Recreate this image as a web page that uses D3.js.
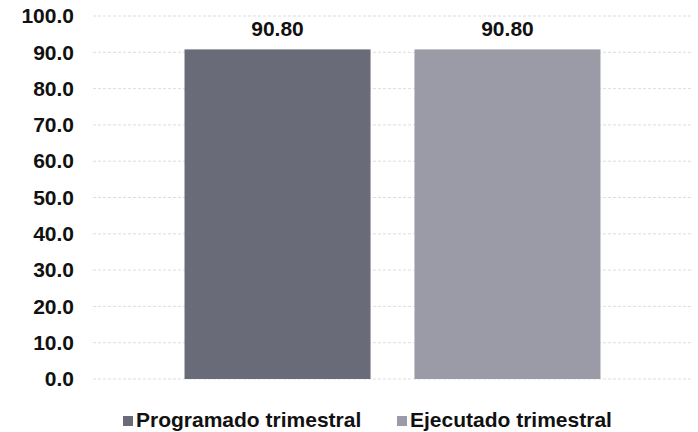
<!DOCTYPE html>
<html><head><meta charset="utf-8">
<script src="https://cdn.jsdelivr.net/npm/d3@7/dist/d3.min.js"></script>
<style>body{margin:0;background:#fff}svg{display:block}text{font-family:"Liberation Sans",Arial,sans-serif;font-weight:bold;fill:#111}</style>
</head><body><svg id="c" width="698" height="432"></svg>
<script>
const categories = [""];
const seriesNames = ["Programado trimestral", "Ejecutado trimestral"];
const seriesValues = [90.80, 90.80];
const yTicks = [0,10,20,30,40,50,60,70,80,90,100];
const colors = ["#6a6b79", "#9b9ba8"];

(function(){
const svg = d3.select("#c");
const mLeft = 93, mRight = 692, mTop = 16, mBottom = 379;
const y = d3.scaleLinear().domain([0,100]).range([mBottom, mTop]);
const x0 = d3.scaleBand().domain(categories).range([mLeft, mRight]).paddingOuter(0.22).paddingInner(0);
const x1 = d3.scaleBand().domain(seriesNames).range([0, x0.bandwidth()]).paddingInner(0.191).paddingOuter(0);

svg.append("g").selectAll("line").data(yTicks).join("line")
  .attr("x1", mLeft).attr("x2", mRight).attr("y1", d=>y(d)).attr("y2", d=>y(d))
  .attr("stroke", "#d4d4d4").attr("stroke-width", 0.8).attr("stroke-dasharray", "3,2");

const yAxis = d3.axisLeft(y).tickValues(yTicks).tickFormat(d3.format(".1f")).tickSize(0).tickPadding(0);
const ga = svg.append("g").attr("transform", `translate(74,0)`).call(yAxis);
ga.select(".domain").remove();
ga.selectAll("text").style("font-size","21px").attr("fill","#111").attr("font-family",'"Liberation Sans",Arial,sans-serif').attr("font-weight","bold");

const g = svg.append("g");
categories.forEach(c => {
  seriesNames.forEach((s,i) => {
    const bx = x0(c) + x1(s);
    g.append("rect").attr("x", bx).attr("y", y(seriesValues[i]))
      .attr("width", x1.bandwidth()).attr("height", y(0) - y(seriesValues[i]))
      .attr("fill", colors[i]);
    g.append("text").attr("x", bx + x1.bandwidth()/2).attr("y", y(seriesValues[i]) - 13)
      .attr("text-anchor","middle").style("font-size","21px").text(d3.format(".2f")(seriesValues[i]));
  });
});

const legX = [123, 397];
seriesNames.forEach((s,i) => {
  svg.append("rect").attr("x", legX[i]).attr("y", 416).attr("width", 10).attr("height", 10).attr("fill", colors[i]);
  svg.append("text").attr("x", legX[i] + 13).attr("y", 427).style("font-size","21px").text(s);
});
})();
</script></body></html>
